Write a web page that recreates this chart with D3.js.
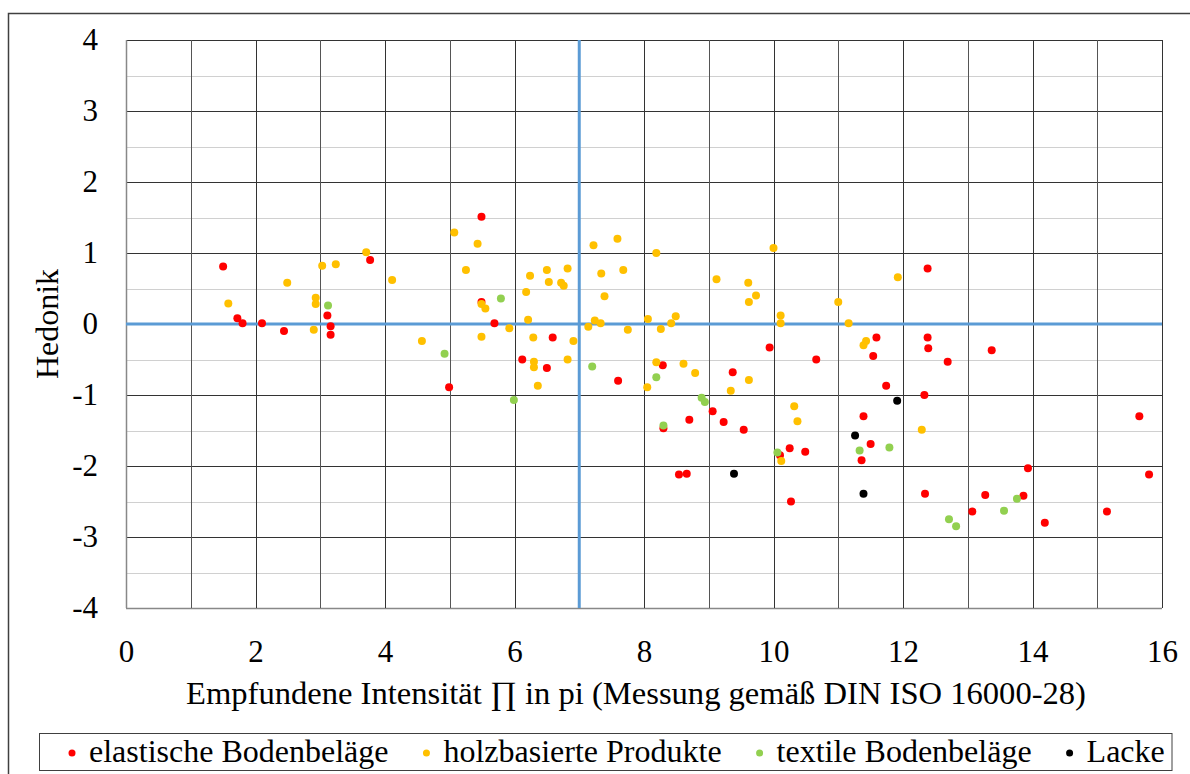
<!DOCTYPE html>
<html>
<head>
<meta charset="utf-8">
<script src="https://cdn.jsdelivr.net/npm/d3@7"></script>
<style>
  html, body { margin: 0; padding: 0; background: #fff; }
  svg { display: block; }
  svg text { font-family: "Liberation Serif", "Times New Roman", Tinos, Times, "DejaVu Serif", serif; fill: #000; }
</style>
</head>
<body>
<svg id="chart" width="1190" height="774"></svg>
<script>
// Hedonik vs. empfundene Intensität, one series per product group: [Intensität, Hedonik]
const elastischeBodenbelaege = [
  [1.50, 0.81], [1.72, 0.08], [1.80, 0.01], [2.10, 0.01], [2.44, -0.10],
  [3.11, 0.12], [3.16, -0.03], [3.16, -0.15], [3.77, 0.90], [5.49, 1.51],
  [5.49, 0.31], [5.69, 0.01], [4.99, -0.89], [6.59, -0.19], [6.12, -0.50],
  [6.50, -0.62], [7.60, -0.80], [8.29, -0.58], [9.37, -0.68], [9.94, -0.33],
  [9.06, -1.23], [8.70, -1.35], [9.23, -1.38], [9.54, -1.49], [8.30, -1.47],
  [8.54, -2.12], [8.66, -2.11], [10.10, -1.85], [10.66, -0.50], [11.59, -0.19],
  [11.54, -0.45], [12.38, -0.19], [12.39, -0.34], [12.69, -0.53], [13.37, -0.37],
  [12.38, 0.78], [11.74, -0.87], [12.33, -1.00], [11.39, -1.30], [11.50, -1.69],
  [11.36, -1.92], [10.25, -1.75], [10.49, -1.80], [10.27, -2.50], [12.34, -2.39],
  [13.07, -2.64], [13.27, -2.41], [13.86, -2.42], [13.93, -2.03], [14.19, -2.80],
  [15.15, -2.64], [15.65, -1.30], [15.80, -2.12]
];
const holzbasierteProdukte = [
  [1.58, 0.29], [2.49, 0.58], [2.93, 0.37], [2.93, 0.28], [2.90, -0.08],
  [3.03, 0.82], [3.24, 0.84], [3.71, 1.01], [4.11, 0.62], [4.57, -0.24],
  [5.07, 1.29], [5.43, 1.13], [5.25, 0.76], [5.49, 0.28], [5.55, 0.22],
  [5.49, -0.18], [5.92, -0.06], [6.21, 0.06], [6.18, 0.45], [6.24, 0.68],
  [6.50, 0.76], [6.53, 0.59], [6.72, 0.58], [6.76, 0.54], [6.82, 0.78],
  [6.29, -0.19], [6.30, -0.53], [6.30, -0.61], [6.36, -0.87], [6.82, -0.50],
  [6.91, -0.24], [7.14, -0.04], [7.24, 0.05], [7.33, 0.01], [7.22, 1.11],
  [7.59, 1.20], [7.34, 0.71], [7.68, 0.76], [7.39, 0.39], [7.75, -0.08],
  [8.19, 1.00], [8.06, 0.07], [8.26, -0.07], [8.42, 0.01], [8.49, 0.11],
  [8.19, -0.54], [8.05, -0.89], [8.61, -0.56], [8.79, -0.69], [9.12, 0.63],
  [9.61, 0.58], [9.73, 0.40], [9.62, 0.31], [9.62, -0.79], [9.34, -0.94],
  [10.00, 1.07], [10.11, 0.12], [10.11, 0.01], [10.12, -1.93], [10.32, -1.16],
  [10.37, -1.37], [11.00, 0.31], [11.16, 0.01], [11.39, -0.30], [11.43, -0.24],
  [11.92, 0.66], [12.29, -1.49]
];
const textileBodenbelaege = [
  [3.12, 0.26], [5.79, 0.36], [4.92, -0.42], [5.99, -1.07], [7.20, -0.60],
  [8.19, -0.75], [8.89, -1.04], [8.94, -1.10], [8.30, -1.43], [10.06, -1.81],
  [11.33, -1.78], [11.79, -1.74], [12.71, -2.75], [12.82, -2.85], [13.56, -2.63],
  [13.76, -2.46]
];
const lacke = [
  [9.39, -2.11], [11.91, -1.08], [11.26, -1.57], [11.39, -2.39]
];

const seriesNames = ["elastische Bodenbeläge", "holzbasierte Produkte", "textile Bodenbeläge", "Lacke"];
const seriesColors = ["#ff0000", "#ffc000", "#92d050", "#000000"];
const seriesData = [elastischeBodenbelaege, holzbasierteProdukte, textileBodenbelaege, lacke];

const xTicks = [0, 2, 4, 6, 8, 10, 12, 14, 16];
const yTicks = [-4, -3, -2, -1, 0, 1, 2, 3, 4];
const xTitle = "Empfundene Intensität \u220F in pi (Messung gemäß DIN ISO 16000-28)";
const yTitle = "Hedonik";
const xReference = 7;   // vertical reference line
const yReference = 0;   // horizontal reference line

const FONT = '"Liberation Serif", "Times New Roman", Tinos, Times, "DejaVu Serif", serif';
const svg = d3.select("#chart");
const plot = { left: 126, right: 1162, top: 40, bottom: 608 };

const x = d3.scaleLinear().domain([0, 16]).range([plot.left, plot.right]);
const y = d3.scaleLinear().domain([-4, 4]).range([plot.bottom, plot.top]);
const crisp = v => Math.round(v) + 0.5;

// outer chart frame
svg.append("rect")
  .attr("x", 8.5).attr("y", 13.5)
  .attr("width", 1300).attr("height", 900)
  .attr("fill", "none").attr("stroke", "#404040").attr("stroke-width", 1.5);

const grid = svg.append("g");

// minor horizontal lines at half steps
grid.selectAll("line.minor")
  .data(d3.range(-3.5, 4, 1))
  .join("line").attr("class", "minor")
  .attr("x1", plot.left).attr("x2", plot.right)
  .attr("y1", d => crisp(y(d))).attr("y2", d => crisp(y(d)))
  .attr("stroke", "#d0d0d0").attr("stroke-width", 1);

// major horizontal lines
grid.selectAll("line.hmajor")
  .data(d3.range(-4, 4.01, 1))
  .join("line").attr("class", "hmajor")
  .attr("x1", plot.left).attr("x2", plot.right)
  .attr("y1", d => crisp(y(d))).attr("y2", d => crisp(y(d)))
  .attr("stroke", d => d === -4 ? "#888" : "#333").attr("stroke-width", d => d === -4 ? 1.5 : 1);

// vertical lines every unit
grid.selectAll("line.vmajor")
  .data(d3.range(0, 16.01, 1))
  .join("line").attr("class", "vmajor")
  .attr("x1", d => crisp(x(d))).attr("x2", d => crisp(x(d)))
  .attr("y1", plot.top).attr("y2", plot.bottom)
  .attr("stroke", d => d === 0 ? "#888" : (d % 2 ? "#555" : "#333"))
  .attr("stroke-width", d => d === 0 ? 1.5 : 1);

// reference lines
svg.append("line")
  .attr("x1", plot.left).attr("x2", plot.right)
  .attr("y1", y(yReference)).attr("y2", y(yReference))
  .attr("stroke", "#5b9bd5").attr("stroke-width", 3);
svg.append("line")
  .attr("x1", x(xReference)).attr("x2", x(xReference))
  .attr("y1", plot.top).attr("y2", plot.bottom)
  .attr("stroke", "#5b9bd5").attr("stroke-width", 3);

// axes (labels only)
const xAxis = svg.append("g")
  .attr("transform", `translate(0,${plot.bottom})`)
  .call(d3.axisBottom(x).tickValues(xTicks).tickSize(0).tickPadding(32).tickFormat(d3.format("d")));
const yAxis = svg.append("g")
  .attr("transform", `translate(${plot.left},0)`)
  .call(d3.axisLeft(y).tickValues(yTicks).tickSize(0).tickPadding(28).tickFormat(d => String(d)));
[xAxis, yAxis].forEach(a => {
  a.attr("font-family", null).attr("font-size", null);
  a.select(".domain").remove();
  a.selectAll("text")
    .style("font-family", FONT)
    .style("font-size", "31px").attr("fill", "#000");
});

// axis titles
svg.append("text")
  .attr("x", 636).attr("y", 704)
  .attr("text-anchor", "middle")
  .style("font-family", FONT).style("font-size", "32.6px")
  .text(xTitle);
svg.append("text")
  .attr("transform", `translate(58,${(plot.top + plot.bottom) / 2}) rotate(-90)`)
  .attr("text-anchor", "middle")
  .style("font-family", FONT).style("font-size", "32px")
  .text(yTitle);

// data points
seriesData.forEach((data, i) => {
  svg.append("g")
    .selectAll("circle")
    .data(data)
    .join("circle")
    .attr("cx", d => x(d[0]))
    .attr("cy", d => y(d[1]))
    .attr("r", 4)
    .attr("fill", seriesColors[i]);
});

// legend
const legend = svg.append("g");
const legendBox = legend.append("rect")
  .attr("x", 39.5).attr("y", 733.5).attr("height", 37)
  .attr("fill", "#fff").attr("stroke", "#404040").attr("stroke-width", 1);
let lx = 72;
seriesNames.forEach((name, i) => {
  legend.append("circle").attr("cx", lx).attr("cy", 753).attr("r", 3.5).attr("fill", seriesColors[i]);
  const t = legend.append("text")
    .attr("x", lx + 17).attr("y", 762)
    .style("font-family", FONT).style("font-size", "32px")
    .text(name);
  lx += 17 + t.node().getComputedTextLength() + 38;
});
legendBox.attr("width", 1172 - 39.5);
</script>
</body>
</html>
